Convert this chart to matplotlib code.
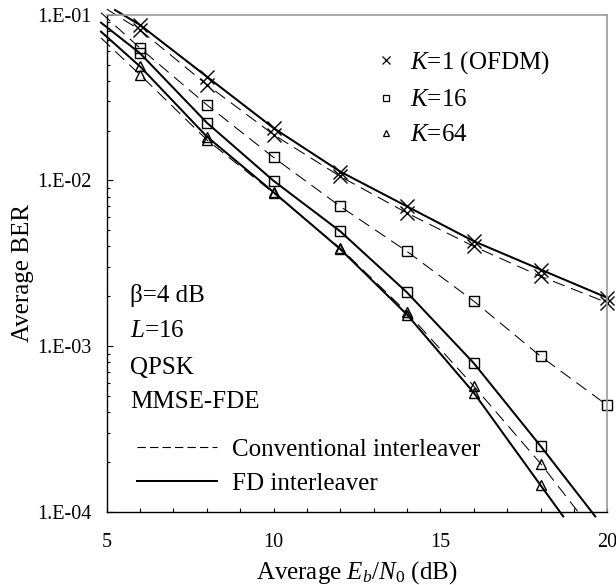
import numpy as np
import matplotlib
matplotlib.use('Agg')
import matplotlib.pyplot as plt
from matplotlib.lines import Line2D
from matplotlib.ticker import FuncFormatter, LogLocator, MultipleLocator, NullFormatter

plt.rcParams['font.family'] = 'Liberation Serif'
plt.rcParams['mathtext.fontset'] = 'custom'
plt.rcParams['mathtext.rm'] = 'Liberation Serif'
plt.rcParams['mathtext.it'] = 'Liberation Serif:italic'
plt.rcParams['lines.scale_dashes'] = False

# Eb/N0 points where markers are drawn
snr = [6, 8, 10, 12, 14, 16, 18, 20]

# K=1 (OFDM)
k1_conv = [0.0809, 0.0378, 0.0189, 0.01057, 0.00636, 0.0040, 0.00264, 0.00183]
k1_fd = [0.0867, 0.0423, 0.0207, 0.0113, 0.00697, 0.0043, 0.0029, 0.00196]
# K=16
k16_conv = [0.0628, 0.0286, 0.01377, 0.00697, 0.00373, 0.00187, 0.00087, 0.00044]
k16_fd = [0.0585, 0.0223, 0.00995, 0.00493, 0.00211, 0.00079, 0.00025]
# K=64
k64_conv = [0.0434, 0.0176, 0.0084, 0.0039, 0.0016, 0.000574, 0.000196]
k64_fd = [0.0487, 0.0184, 0.0085, 0.00385, 0.00155, 0.000524, 0.000145]

# where the drawn curves begin and end (outside the marker points)
k1_conv_ends = [(5.0, 0.108), None]
k1_fd_ends = [(5.25, 0.1067), None]
k16_conv_ends = [(4.83, 0.1028), None]
k16_fd_ends = [(4.83, 0.0895), (19.64, 9.4e-5)]
k64_conv_ends = [(4.83, 0.0724), (19.23, 9.4e-5)]
k64_fd_ends = [(4.83, 0.0790), (18.68, 9.4e-5)]


def curve(ys, ends):
    xs = list(snr[:len(ys)])
    ys = list(ys)
    if ends[0] is not None:
        xs = [ends[0][0]] + xs
        ys = [ends[0][1]] + ys
    if ends[1] is not None:
        xs = xs + [ends[1][0]]
        ys = ys + [ends[1][1]]
    return xs, ys


fig = plt.figure(figsize=(6.16, 5.85), dpi=100)
ax = fig.add_axes([0.1732, 0.1248, 0.8127, 0.8501])

dash = (0, (9, 5))
series = [
    (k1_conv, k1_conv_ends, 'x', 9.5, 'conv'),
    (k1_fd, k1_fd_ends, 'x', 9.5, 'fd'),
    (k16_conv, k16_conv_ends, 's', 6.5, 'conv'),
    (k16_fd, k16_fd_ends, 's', 6.5, 'fd'),
    (k64_conv, k64_conv_ends, '^', 7.8, 'conv'),
    (k64_fd, k64_fd_ends, '^', 7.8, 'fd'),
]
for ys, ends, mk, ms, kind in series:
    cx, cy = curve(ys, ends)
    if kind == 'conv':
        ax.plot(cx, cy, color='k', lw=0.75, linestyle=dash, clip_on=False)
    else:
        ax.plot(cx, cy, color='k', lw=1.45, linestyle='-', clip_on=False)
    ax.plot(snr[:len(ys)], ys, linestyle='none', marker=mk, ms=ms,
            mfc='none', mec='k', mew=1.0, clip_on=False)

ax.set_yscale('log')
ax.set_xlim(5, 20)
ax.set_ylim(1e-4, 1e-1)
ax.set_xticks([5, 10, 15, 20])
ax.xaxis.set_minor_locator(MultipleLocator(1))
ax.yaxis.set_major_locator(LogLocator(base=10))
ax.yaxis.set_minor_locator(LogLocator(base=10, subs=range(2, 10)))
ax.yaxis.set_minor_formatter(NullFormatter())
ax.yaxis.set_major_formatter(FuncFormatter(lambda v, p: '1.E-%02d' % round(-np.log10(v))))

ax.tick_params(which='both', direction='in', top=False, right=False, width=0.8, labelsize=14.5)
ax.tick_params(axis='y', which='major', length=4.5, pad=11)
ax.tick_params(axis='y', which='minor', length=2.2)
ax.tick_params(axis='x', which='both', length=3, pad=15)

for s in ['top', 'right']:
    ax.spines[s].set_color('#999999')
    ax.spines[s].set_linewidth(1.2)
for s in ['left', 'bottom']:
    ax.spines[s].set_linewidth(1.0)

ax.set_xlabel('Average $E_b/N_0$ (dB)', fontsize=18)
ax.set_ylabel('Average BER', fontsize=18)
ax.yaxis.set_label_coords(-0.145, 0.48)
ax.xaxis.set_label_coords(0.5, -0.095)

# marker legend
mk_handles = [
    Line2D([], [], linestyle='none', marker='x', ms=5.5, mec='k', mew=0.9),
    Line2D([], [], linestyle='none', marker='s', ms=4.5, mfc='none', mec='k', mew=0.9),
    Line2D([], [], linestyle='none', marker='^', ms=5, mfc='none', mec='k', mew=0.9),
]
leg1 = ax.legend(mk_handles, ['$K$=1 (OFDM)', '$K$=16', '$K$=64'],
                 loc='upper left', bbox_to_anchor=(0.533, 0.93), frameon=False,
                 fontsize=18, handlelength=1.0, handletextpad=0.45,
                 labelspacing=0.5, borderpad=0, borderaxespad=0)
ax.add_artist(leg1)

# line style legend
ln_handles = [
    Line2D([], [], color='k', lw=0.8, linestyle=(0, (6, 3))),
    Line2D([], [], color='k', lw=1.45, linestyle='-'),
]
ax.legend(ln_handles, ['Conventional interleaver', 'FD interleaver'],
          loc='lower left', bbox_to_anchor=(0.06, 0.035), frameon=False,
          fontsize=18, handlelength=3.2, handletextpad=0.6,
          labelspacing=0.45, borderpad=0, borderaxespad=0)

notes = ['\u03b2=4 dB', '$L$=16', 'QPSK', 'MMSE-FDE']
note_y = [0.423, 0.3525, 0.2775, 0.2085]
for t, yy in zip(notes, note_y):
    ax.text(0.047, yy, t, transform=ax.transAxes, fontsize=18, va='baseline', ha='left')

fig.savefig('out.png', dpi=100)
